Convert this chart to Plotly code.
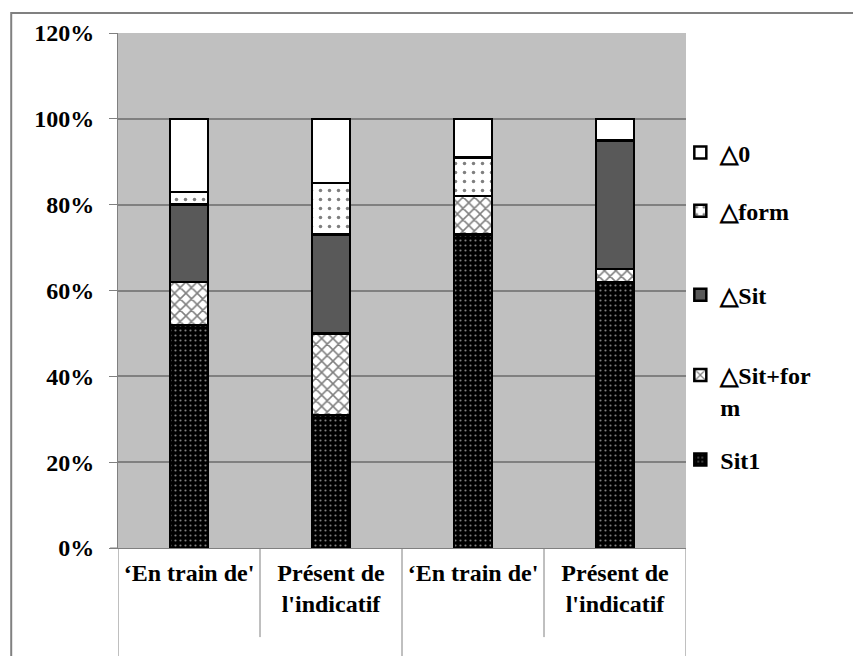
import plotly.graph_objects as go

# categories (two groups, each with the same two labels)
cat_pos = [0, 1, 2, 3]
cat_labels = ["‘En train de'", "Présent de<br>l'indicatif", "‘En train de'", "Présent de<br>l'indicatif"]

# stacked shares, bottom to top
sit1 = [0.52, 0.31, 0.73, 0.62]
sit_form = [0.10, 0.19, 0.09, 0.03]
sit = [0.18, 0.23, 0.00, 0.30]
form = [0.03, 0.12, 0.09, 0.00]
zero = [0.17, 0.15, 0.09, 0.05]

FONT = "Liberation Serif"
GRAY = "#808080"

series = [
    ("Sit1", sit1, dict(color="black", pattern=dict(shape=".", fgcolor="white", bgcolor="black", size=5, solidity=0.15))),
    ("△Sit+for<br>m", sit_form, dict(color="white", pattern=dict(shape="x", fgcolor="black", bgcolor="white", size=8, solidity=0.35))),
    ("△Sit", sit, dict(color="#595959")),
    ("△form", form, dict(color="white", pattern=dict(shape=".", fgcolor="black", bgcolor="white", size=9, solidity=0.12))),
    ("△0", zero, dict(color="white")),
]

# legend vertical centres (paper coords)
leg_y = [0.171, 0.305, 0.491, 0.654, 0.767]
leg_names = ["legend", "legend2", "legend3", "legend4", "legend5"]

fig = go.Figure()
for (name, vals, mk), ly, ln in zip(series, leg_y, leg_names):
    mk = dict(mk)
    mk["line"] = dict(color="black", width=2.5)
    fig.add_bar(x=cat_pos, y=vals, name=name, marker=mk, width=0.27, legend=ln)

tfont = dict(family=FONT, size=24, color="black", weight="bold")

legend_common = dict(
    x=0.99, xanchor="left", yanchor="middle",
    bgcolor="rgba(0,0,0,0)", font=tfont,
    itemwidth=30,
)
layout_legends = {}
for ly, ln in zip(leg_y, leg_names):
    d = dict(legend_common)
    d["y"] = ly
    if ln == "legend2":
        d["valign"] = "top"
    layout_legends[ln] = d

# page body has an 8px margin, so the figure is shifted by 8px
fig.update_layout(
    barmode="stack",
    width=861, height=656,
    margin=dict(l=110, r=183, t=25, b=116),
    paper_bgcolor="white",
    plot_bgcolor="#C0C0C0",
    showlegend=True,
    font=tfont,
    **layout_legends,
)

fig.update_yaxes(
    range=[0, 1.2], dtick=0.2, tickformat=".0%",
    showgrid=True, gridcolor=GRAY, gridwidth=1.5,
    showline=True, linecolor=GRAY, linewidth=1,
    ticks="outside", ticklen=8, tickcolor=GRAY,
    tickfont=tfont, ticklabelstandoff=10,
    zeroline=False,
)
fig.update_xaxes(
    range=[-0.5, 3.5], tickvals=cat_pos, ticktext=cat_labels,
    showgrid=False, zeroline=False, showline=True, linecolor=GRAY, linewidth=1,
    ticks="", tickfont=tfont, ticklabelstandoff=3,
)

# category table lines below the axis
for xv in [0.5, 2.5]:
    fig.add_shape(type="line", xref="x", yref="paper", x0=xv, x1=xv, y0=0, y1=-0.173,
                  line=dict(color=GRAY, width=1))
for xv in [-0.5, 1.5, 3.5]:
    fig.add_shape(type="line", xref="x", yref="paper", x0=xv, x1=xv, y0=0, y1=-0.3,
                  line=dict(color=GRAY, width=1))
# tick at 0% left of axis
fig.add_shape(type="line", xref="paper", yref="paper", x0=-0.014, x1=0, y0=0, y1=0,
              line=dict(color=GRAY, width=1))
# outer chart frame
fig.add_shape(type="rect", xref="paper", yref="paper", x0=-0.188, x1=1.5, y0=-0.5, y1=1.039,
              line=dict(color=GRAY, width=2), layer="below")

fig.write_html("out.html")
